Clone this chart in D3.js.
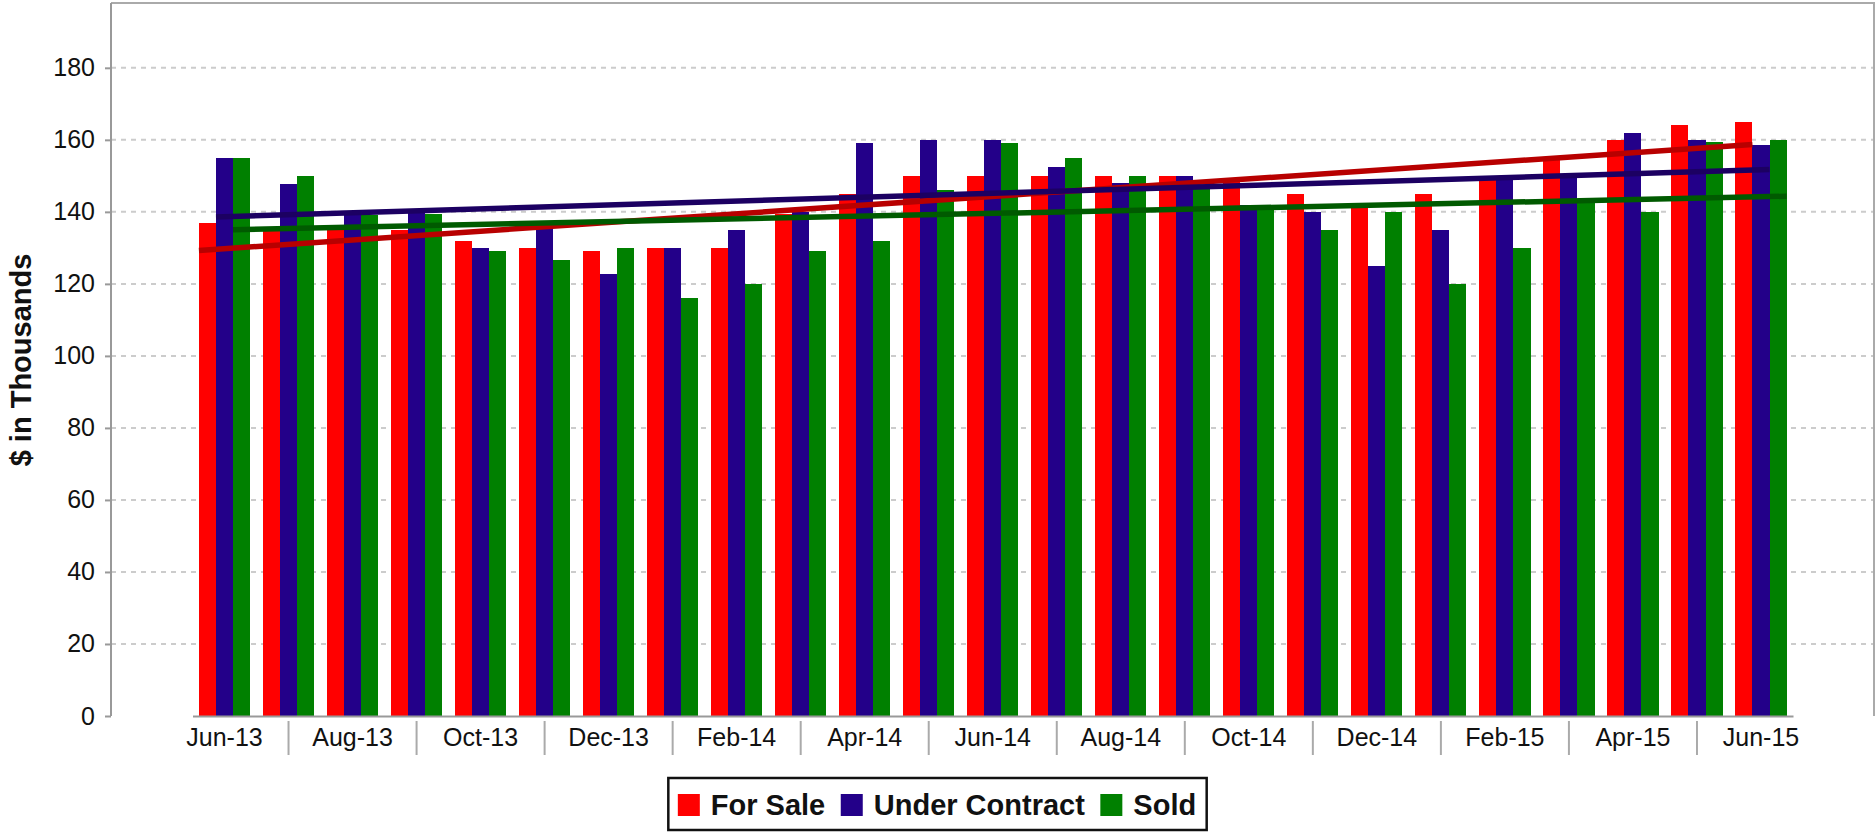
<!DOCTYPE html>
<html>
<head>
<meta charset="utf-8">
<script src="https://cdn.jsdelivr.net/npm/d3@7"></script>
<style>
  body { margin: 0; background: #fff; }
  svg { display: block; font-family: "Liberation Sans", Arial, sans-serif; }
</style>
</head>
<body>
<div id="chart"></div>
<script>
// months shown on the x axis (labels only on every second one)
var months = ["Jun-13","Jul-13","Aug-13","Sep-13","Oct-13","Nov-13","Dec-13","Jan-14","Feb-14","Mar-14",
  "Apr-14","May-14","Jun-14","Jul-14","Aug-14","Sep-14","Oct-14","Nov-14","Dec-14","Jan-15",
  "Feb-15","Mar-15","Apr-15","May-15","Jun-15"];

// values in $ thousands
var forSale = [137, 134.6, 135, 135, 132, 130, 129, 130, 130, 139.5, 145, 150, 150, 150, 150, 150,
  148.5, 145, 141.5, 145, 149, 154.5, 160, 164, 165];
var underContract = [155, 147.7, 140, 140, 130, 137.5, 122.7, 130, 135, 140, 159, 160, 160, 152.5, 148, 150,
  142, 140, 125, 135, 149, 150, 162, 160, 158.5];
var sold = [155, 150, 139, 139.5, 129, 126.5, 130, 116, 120, 129, 132, 146, 159, 155, 150, 147.5,
  141.5, 135, 140, 120, 130, 142.5, 140, 159.5, 160];

var seriesNames = ["For Sale", "Under Contract", "Sold"];
var yTicks = [0, 20, 40, 60, 80, 100, 120, 140, 160, 180];

var colors = ["#ff0000", "#230089", "#008000"];
var trendColors = ["#b80000", "#1c0062", "#005a00"];

(function() {
"use strict";

var W = 1875, H = 832;
var plotLeft = 111, plotRight = 1874, plotTop = 3, plotBottom = 716;

var series = [forSale, underContract, sold];

var svg = d3.select("#chart").append("svg")
  .attr("width", W)
  .attr("height", H);

svg.append("rect").attr("width", W).attr("height", H).attr("fill", "#fff");

var x0 = d3.scaleBand()
  .domain(months)
  .range([192.5, 1793])
  .paddingInner(0.2)
  .paddingOuter(0.1);

var x1 = d3.scaleBand()
  .domain(seriesNames)
  .range([0, x0.bandwidth()]);

var y = d3.scaleLinear()
  .domain([0, 198])
  .range([plotBottom, plotTop]);

// grid lines
svg.append("g")
  .selectAll("line")
  .data(yTicks.filter(function(d) { return d > 0; }))
  .enter().append("line")
  .attr("x1", plotLeft).attr("x2", plotRight)
  .attr("y1", function(d) { return y(d); })
  .attr("y2", function(d) { return y(d); })
  .attr("stroke", "#cccccc")
  .attr("stroke-width", 2)
  .attr("stroke-dasharray", "5,5");

// bars
var groups = svg.append("g")
  .selectAll("g")
  .data(months)
  .enter().append("g")
  .attr("transform", function(d) { return "translate(" + x0(d) + ",0)"; });

groups.selectAll("rect")
  .data(function(d, i) {
    return series.map(function(s, k) { return { name: seriesNames[k], value: s[i], k: k }; });
  })
  .enter().append("rect")
  .attr("x", function(d) { return x1(d.name); })
  .attr("y", function(d) { return y(d.value); })
  .attr("width", x1.bandwidth())
  .attr("height", function(d) { return y(0) - y(d.value); })
  .attr("fill", function(d) { return colors[d.k]; })
  .attr("shape-rendering", "crispEdges");

// linear trend lines (least squares on month index)
function fit(vals) {
  var mx = d3.mean(vals, function(v, i) { return i; });
  var my = d3.mean(vals);
  var sxy = 0, sxx = 0;
  vals.forEach(function(v, i) { sxy += (i - mx) * (v - my); sxx += (i - mx) * (i - mx); });
  var b = sxy / sxx;
  return function(i) { return my + b * (i - mx); };
}

var last = months.length - 1;
series.forEach(function(s, k) {
  var f = fit(s);
  svg.append("line")
    .attr("x1", x0(months[0]) + x1(seriesNames[k]))
    .attr("x2", x0(months[last]) + x1(seriesNames[k]) + x1.bandwidth())
    .attr("y1", y(f(0)))
    .attr("y2", y(f(last)))
    .attr("stroke", trendColors[k])
    .attr("stroke-width", 5.5);
});

// frame
svg.append("path")
  .attr("d", "M" + plotLeft + "," + plotTop + "H" + plotRight + "V" + plotBottom)
  .attr("fill", "none")
  .attr("stroke", "#aaaaaa")
  .attr("stroke-width", 2);

// y axis
var yAxis = d3.axisLeft(y)
  .tickValues(yTicks)
  .tickSize(6)
  .tickPadding(10);

var yg = svg.append("g")
  .attr("transform", "translate(" + plotLeft + ",0)")
  .call(yAxis);
yg.select(".domain").attr("stroke", "#999").attr("stroke-width", 2)
  .attr("d", "M0," + plotTop + "V" + plotBottom);
yg.selectAll(".tick line").attr("stroke", "#999").attr("stroke-width", 2);
yg.selectAll("text").attr("font-size", 25).attr("fill", "#111")
  .attr("font-family", "Liberation Sans, Arial, sans-serif");

// x axis
var xAxis = d3.axisBottom(x0)
  .tickValues(months.filter(function(d, i) { return i % 2 == 0; }))
  .tickSize(0)
  .tickPadding(12);

var xg = svg.append("g")
  .attr("transform", "translate(0," + plotBottom + ")")
  .call(xAxis);
xg.select(".domain").attr("stroke", "#999").attr("stroke-width", 2);
xg.selectAll("text").attr("font-size", 25).attr("fill", "#111")
  .attr("font-family", "Liberation Sans, Arial, sans-serif");

// separators between the labels
svg.append("g")
  .selectAll("line")
  .data(months.filter(function(d, i) { return i % 2 == 1; }))
  .enter().append("line")
  .attr("x1", function(d) { return x0(d) + x0.bandwidth() / 2; })
  .attr("x2", function(d) { return x0(d) + x0.bandwidth() / 2; })
  .attr("y1", 721).attr("y2", 755)
  .attr("stroke", "#aaaaaa")
  .attr("stroke-width", 2);

// y title
svg.append("text")
  .attr("transform", "translate(31,360) rotate(-90)")
  .attr("text-anchor", "middle")
  .attr("font-size", 29)
  .attr("font-weight", "bold")
  .attr("fill", "#111")
  .text("$ in Thousands");

// legend
var legend = svg.append("g");
var lx = 0;
seriesNames.forEach(function(name, k) {
  var it = legend.append("g").attr("transform", "translate(" + lx + ",0)");
  it.append("rect").attr("x", 0).attr("y", 0).attr("width", 22).attr("height", 22).attr("fill", colors[k]);
  var t = it.append("text").attr("x", 33).attr("y", 21)
    .attr("font-size", 29).attr("font-weight", "bold").attr("fill", "#111").text(name);
  var w = t.node().getComputedTextLength();
  lx += 33 + w + 15.5;
});
var legW = lx - 15.5;
var boxW = legW + 20;
var bx = (W - boxW) / 2;
legend.attr("transform", "translate(" + (bx + 9.5) + ",794)");
svg.append("rect")
  .attr("x", bx).attr("y", 778)
  .attr("width", boxW).attr("height", 52)
  .attr("fill", "none")
  .attr("stroke", "#111")
  .attr("stroke-width", 2.5);

})();
</script>
</body>
</html>
